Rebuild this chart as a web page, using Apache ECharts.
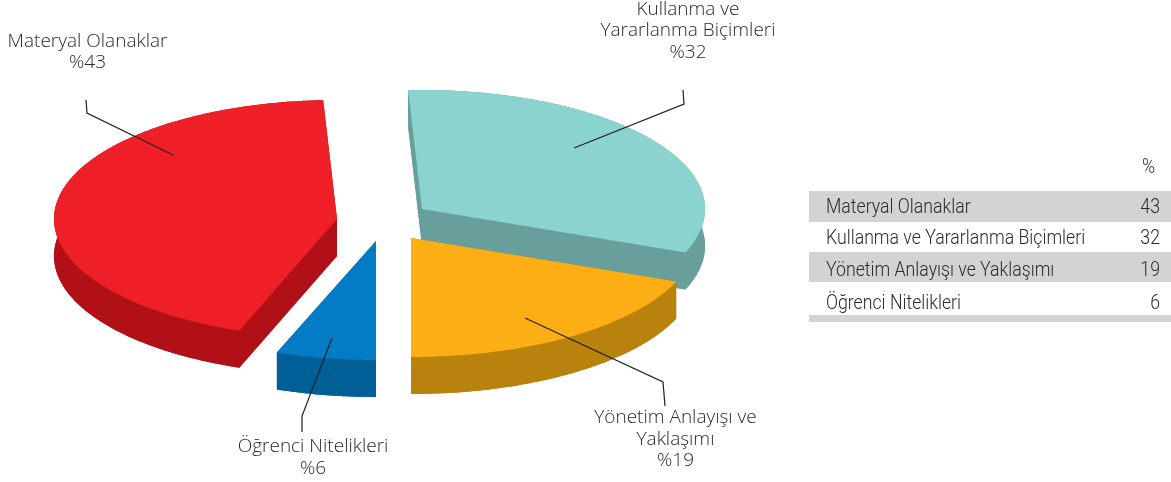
<!DOCTYPE html>
<html><head><meta charset="utf-8">
<style>html,body{margin:0;padding:0;background:#fff}#c{width:1171px;height:482px}</style>
<script src="https://cdn.jsdelivr.net/npm/echarts@6/dist/echarts.min.js"></script>
</head><body><div id="c"></div>
<script>
// ---- data ----
const categories = ['Materyal Olanaklar', 'Kullanma ve Yararlanma Biçimleri', 'Yönetim Anlayışı ve Yaklaşımı', 'Öğrenci Nitelikleri'];
const values = [43, 32, 19, 6];
const labelLines = [['Materyal Olanaklar'], ['Kullanma ve', 'Yararlanma Biçimleri'], ['Yönetim Anlayışı ve', 'Yaklaşımı'], ['Öğrenci Nitelikleri']];
const tableHeader = '%';

// ---- layout & style ----
const RXS = [283, 283, 285, 283], RY = 119, DEPTH = 37, START_DEG = -157.8;
const apex = [[337, 219], [422, 209], [411, 238], [376, 241]];
// small per-slice corrections (degrees) for the perspective of the drawing
const angleTrim = [[-2, 0.2], [0.2, -0.7], [-0.7, -0.6], [-0.6, -1.7]];
const topColors = ['#ee1f26', '#8bd3cf', '#feae15', '#047cc5'];
const sideColors = ['#b11116', '#689f9c', '#b9820d', '#005f96'];
const leaders = [
  [[173, 155], [87, 113], [86, 100]],
  [[574, 148], [684, 104], [683, 90]],
  [[525, 318], [663, 382], [665, 406]],
  [[332, 338], [302, 416], [302, 432]]
];
const labelPos = [[87.5, 41.5], [688, 9.5], [675.5, 418], [313, 447]];
const LABEL_LH = 21.5;
const labelFont = { fontFamily: '"Open Sans"', fontWeight: 300, fontSize: 19, fill: '#2b2b2b' };
const tableFont = { fontFamily: 'Roboto', fontWeight: 300, fontSize: 20, fill: '#2b2b2b' };
const TABLE_SX = 0.885;
const rowY = [208, 239, 270.5, 303.5];

const total = values.reduce((a, b) => a + b, 0);
const startAngles = [];
values.reduce((acc, v, i) => { startAngles[i] = acc; return acc + v / total * 360; }, START_DEG);

function renderSlice(params, api) {
  const i = params.dataIndex;
  const value = api.value(0);
  const a0 = startAngles[i] + angleTrim[i][0];
  const span = value / total * 360 + angleTrim[i][1] - angleTrim[i][0];
  const [cx, cy] = apex[i];
  const arc = [];
  const n = Math.ceil(span * 1.5);
  for (let k = 0; k <= n; k++) {
    const t = (a0 + span * k / n) * Math.PI / 180;
    arc.push([cx + RXS[i] * Math.sin(t), cy - RY * Math.cos(t)]);
  }
  const down = p => [p[0], p[1] + DEPTH];
  const top = [[cx, cy]].concat(arc);
  const side = { fill: sideColors[i] };
  const poly = (points, style) => ({ type: 'polygon', shape: { points }, style });
  return {
    type: 'group',
    children: [
      poly(top.map(down), side),
      poly(arc.concat(arc.slice().reverse().map(down)), side),
      poly([[cx, cy], arc[0], down(arc[0]), down([cx, cy])], side),
      poly([[cx, cy], arc[n], down(arc[n]), down([cx, cy])], side),
      poly(top, { fill: topColors[i] })
    ]
  };
}

const graphics = [];
// leaders
leaders.forEach(points => graphics.push({
  type: 'polyline', z: 10, shape: { points },
  style: { stroke: '#231f20', lineWidth: 1.2, fill: null }
}));
// slice labels
labelLines.forEach((lines, i) => {
  lines.concat(['%' + values[i]]).forEach((t, j) => graphics.push({
    type: 'text', z: 10, x: labelPos[i][0], y: labelPos[i][1] + j * LABEL_LH,
    style: Object.assign({ text: t, align: 'center', verticalAlign: 'middle' }, labelFont)
  }));
});
// table bands
[[191, 31], [252, 30], [315, 7]].forEach(([y, h]) => graphics.push({
  type: 'rect', z: 1, shape: { x: 809, y, width: 362, height: h }, style: { fill: '#d1d3d4' }
}));
graphics.push({ type: 'text', z: 10, x: 1155, y: 168, scaleX: TABLE_SX,
  style: Object.assign({ text: tableHeader, align: 'right', verticalAlign: 'middle' }, tableFont) });
categories.forEach((c, i) => {
  graphics.push({ type: 'text', z: 10, x: 826, y: rowY[i], scaleX: TABLE_SX,
    style: Object.assign({ text: c, align: 'left', verticalAlign: 'middle' }, tableFont) });
  graphics.push({ type: 'text', z: 10, x: 1160, y: rowY[i], scaleX: TABLE_SX,
    style: Object.assign({ text: String(values[i]), align: 'right', verticalAlign: 'middle' }, tableFont) });
});

const chart = echarts.init(document.getElementById('c'), null, { renderer: 'canvas' });
chart.setOption({
  animation: false,
  backgroundColor: '#fff',
  graphic: { elements: graphics },
  series: [{
    type: 'custom',
    coordinateSystem: 'none',
    renderItem: renderSlice,
    data: values.map((v, i) => ({ name: categories[i], value: [v] }))
  }]
});
</script></body></html>
